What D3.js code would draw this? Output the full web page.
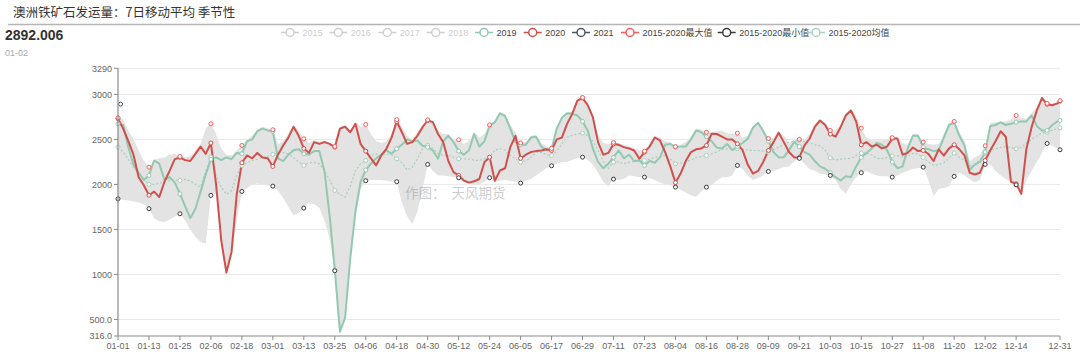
<!DOCTYPE html>
<html><head><meta charset="utf-8">
<script src="https://cdn.jsdelivr.net/npm/d3@7"></script>
<style>
body{margin:0;background:#fff;}
svg{display:block;font-family:"Liberation Sans","Noto Sans CJK SC",sans-serif;}
</style>
</head><body><svg id="c" width="1080" height="358"></svg>
<script>
// ---------------- data ----------------
const titleText = '澳洲铁矿石发运量：7日移动平均 季节性';
const latestValue = '2892.006';
const latestDate = '01-02';
const watermark = '作图：  天风期货';

const yTickValues = [316, 500, 1000, 1500, 2000, 2500, 3000, 3290];
const yTickLabels = ['316.0', '500.0', '1000', '1500', '2000', '2500', '3000', '3290'];
const xTickLabels = ['01-01','01-13','01-25','02-06','02-18','03-01','03-13','03-25','04-06','04-18','04-30','05-12','05-24','06-05','06-17','06-29','07-11','07-23','08-04','08-16','08-28','09-09','09-21','10-03','10-15','10-27','11-08','11-20','12-02','12-14','12-31'];

const legendNames = ['2015','2016','2017','2018','2019','2020','2021','2015-2020最大值','2015-2020最小值','2015-2020均值'];

// sampled days of the (leap) year: every 2nd day, plus 12-31
const sampleDays = d3.range(0, 366, 2).concat([365]);

const v2020 = [
2730,2620,2480,2330,2080,1990,1880,1920,1860,2030,
2150,2280,2300,2270,2260,2340,2420,2340,2460,2000,
1380,1020,1250,1890,2240,2322,2290,2350,2300,2290,
2200,2330,2433,2520,2640,2540,2400,2350,2470,2450,
2470,2450,2414,2620,2640,2580,2673,2450,2370,2290,
2211,2322,2396,2520,2700,2580,2450,2470,2540,2636,
2710,2692,2560,2470,2260,2137,2100,2044,2020,2035,
2060,2250,2303,2040,2155,2180,2414,2540,2290,2330,
2359,2370,2377,2390,2377,2500,2520,2673,2784,2932,
2960,2880,2747,2470,2330,2350,2450,2440,2414,2400,
2377,2285,2359,2420,2520,2488,2359,2200,2020,2120,
2260,2359,2390,2400,2433,2562,2560,2530,2500,2500,
2451,2380,2220,2120,2150,2250,2377,2470,2575,2470,
2360,2300,2300,2433,2510,2640,2710,2660,2560,2530,
2636,2766,2821,2700,2440,2470,2420,2440,2400,2420,
2510,2510,2330,2350,2410,2370,2377,2340,2260,2390,
2320,2400,2440,2390,2322,2130,2110,2130,2266,2380,
2480,2590,2530,2030,2007,1896,2400,2636,2820,2960,
2890,2880,2900,2925];

const v2019 = [
2673,2660,2414,2220,2130,2050,2100,2266,2230,2050,
2081,2020,1896,1760,1625,1730,1920,2110,2280,2300,
2270,2300,2280,2350,2340,2480,2500,2590,2620,2600,
2590,2290,2260,2330,2380,2390,2340,2330,2370,2370,
2150,1650,1050,364,520,1180,1700,2030,2160,2230,
2290,2330,2380,2340,2396,2440,2500,2475,2488,2430,
2414,2377,2285,2480,2540,2470,2370,2330,2380,2560,
2420,2480,2655,2690,2790,2760,2620,2470,2440,2440,
2520,2530,2420,2380,2396,2620,2740,2790,2784,2766,
2700,2600,2400,2250,2180,2230,2300,2377,2290,2330,
2260,2266,2211,2260,2240,2300,2440,2450,2414,2420,
2420,2500,2600,2580,2530,2480,2410,2400,2450,2380,
2420,2460,2507,2630,2685,2590,2480,2360,2300,2303,
2380,2470,2420,2359,2330,2260,2200,2174,2130,2080,
2044,2090,2081,2200,2300,2350,2396,2460,2440,2380,
2250,2180,2200,2400,2540,2540,2414,2390,2370,2380,
2520,2660,2690,2540,2433,2160,2220,2250,2359,2650,
2660,2690,2660,2673,2692,2700,2700,2766,2650,2600,
2600,2660,2700,2710];

const vMax = [
2740,2720,2600,2500,2380,2260,2192,2270,2290,2300,
2330,2340,2310,2300,2310,2380,2450,2620,2673,2560,
2400,2330,2320,2380,2433,2500,2540,2610,2640,2620,
2607,2450,2480,2560,2660,2600,2507,2460,2490,2470,
2490,2460,2422,2640,2660,2600,2690,2640,2666,2560,
2480,2460,2480,2560,2720,2640,2540,2500,2580,2660,
2718,2700,2600,2560,2560,2500,2496,2450,2480,2580,
2520,2560,2662,2700,2800,2780,2660,2580,2460,2470,
2540,2550,2460,2420,2400,2640,2760,2800,2810,2940,
2965,2890,2760,2560,2460,2450,2466,2460,2440,2420,
2400,2380,2370,2460,2540,2520,2480,2470,2420,2440,
2470,2530,2620,2610,2580,2580,2590,2600,2570,2560,
2570,2520,2540,2640,2700,2620,2510,2520,2590,2540,
2460,2500,2500,2500,2560,2670,2720,2690,2600,2600,
2660,2790,2835,2760,2625,2520,2490,2490,2490,2500,
2520,2530,2460,2440,2560,2560,2470,2450,2440,2450,
2560,2680,2700,2580,2480,2260,2300,2330,2429,2680,
2690,2700,2700,2720,2766,2740,2730,2790,2860,2970,
2900,2900,2920,2930];

const vMin = [
1840,1830,1820,1810,1800,1780,1730,1620,1590,1580,
1610,1640,1674,1600,1500,1420,1360,1340,1878,1900,
1370,1010,1240,1600,1922,1960,2000,2010,2000,1990,
1981,1930,1850,1750,1660,1680,1737,1790,1780,1740,
1600,1400,1041,355,500,1150,1650,1950,2041,2050,
2050,2050,2040,2030,2030,1800,1650,1560,1700,1950,
2222,2150,2100,2100,2090,2080,2074,2030,2010,2000,
2000,2030,2074,2030,2040,2050,2040,2030,2015,2040,
2060,2100,2140,2180,2207,2230,2250,2250,2270,2290,
2303,2270,2220,2130,2030,1980,2059,2050,2060,2100,
2090,2080,2081,2070,2050,2020,2000,1990,1970,1940,
1910,1880,1860,1920,1970,1990,2040,2080,2080,2100,
2211,2170,2100,2050,2070,2100,2144,2150,2170,2190,
2200,2260,2290,2230,2170,2150,2120,2110,2100,2050,
1950,1900,2000,2080,2130,2150,2120,2100,2090,2090,
2081,2100,2130,2150,2170,2180,2192,2050,1870,1950,
1960,1980,2089,2130,2100,2060,2020,2050,2222,2220,
2150,2100,2060,2020,1995,1880,2050,2150,2250,2350,
2455,2430,2400,2385];

const vMean = [
2414,2360,2280,2190,2120,2060,2000,2000,2010,2030,
2044,2050,2044,2055,2040,2000,1970,2150,2303,2100,
1970,1890,1930,2100,2211,2240,2266,2280,2300,2310,
2333,2350,2355,2340,2300,2250,2211,2240,2245,2229,
2150,2050,1933,1890,1860,1980,2150,2230,2266,2320,
2340,2320,2340,2330,2285,2240,2160,2190,2285,2396,
2433,2400,2340,2322,2322,2300,2285,2285,2280,2270,
2266,2285,2303,2380,2396,2380,2320,2285,2248,2260,
2300,2359,2355,2330,2322,2370,2450,2525,2545,2560,
2570,2540,2480,2380,2260,2180,2248,2250,2229,2245,
2255,2262,2266,2280,2300,2310,2322,2280,2229,2235,
2250,2270,2300,2310,2322,2340,2360,2390,2396,2396,
2396,2390,2380,2377,2377,2370,2359,2390,2414,2440,
2470,2480,2488,2475,2460,2440,2430,2380,2296,2270,
2280,2285,2290,2320,2348,2350,2330,2290,2285,2300,
2318,2320,2300,2310,2345,2340,2300,2250,2211,2220,
2240,2290,2348,2300,2270,2200,2230,2270,2348,2380,
2396,2410,2420,2410,2396,2410,2460,2500,2540,2570,
2580,2600,2620,2629];

const d2021 = ['01-02'];
const v2021 = [2892.006];

// ---------------- drawing ----------------
const colors = {
  c2019: '#93c9b0', c2020: '#d0504b', c2021: '#4b5667',
  cMax: '#ff5a5a', cMin: '#3a3a3a', cMean: '#a9cfbd', off: '#cfcfcf'
};
const svg = d3.select('#c');
const x = d3.scaleLinear().domain([0, 365]).range([118, 1060]);
const y = d3.scaleLinear().domain([316, 3290]).range([336, 68.3]);
const dayOf = s => { const [m, d] = s.split('-').map(Number); return d3.timeDay.count(new Date(2020, 0, 1), new Date(2020, m - 1, d)); };

// title
svg.append('text').attr('x', 13).attr('y', 17).attr('font-size', 12.5).attr('fill', '#333')
  .attr('font-family', '"Noto Sans CJK SC",sans-serif').text(titleText);
svg.append('line').attr('x1', 8).attr('x2', 1080).attr('y1', 24.5).attr('y2', 24.5)
  .attr('stroke', '#b5b5b5').attr('stroke-width', 1.5);
svg.append('text').attr('x', 5).attr('y', 39.5).attr('font-size', 14).attr('font-weight', 'bold')
  .attr('fill', '#333').text(latestValue);
svg.append('text').attr('x', 5).attr('y', 55.5).attr('font-size', 9).attr('fill', '#aaa').text(latestDate);

// legend
const legendColors = [colors.off, colors.off, colors.off, colors.off, colors.c2019, colors.c2020, colors.c2021, colors.cMax, colors.cMin, colors.cMean];
const legendCenters = [290, 338.3, 387.3, 435.7, 484, 532.7, 581, 630, 726.7, 816];
legendNames.forEach((n, i) => {
  const lx = legendCenters[i];
  const g = svg.append('g');
  g.append('line').attr('x1', lx - 9).attr('x2', lx + 9).attr('y1', 32.5).attr('y2', 32.5)
    .attr('stroke', legendColors[i]).attr('stroke-width', 1.5);
  g.append('circle').attr('cx', lx).attr('cy', 32.5).attr('r', 4).attr('fill', '#fff')
    .attr('stroke', legendColors[i]).attr('stroke-width', 1.5);
  g.append('text').attr('x', lx + 12.5).attr('y', 35.8).attr('font-size', 9)
    .attr('fill', i < 4 ? colors.off : '#444').text(n);
});

// grid
svg.append('g').selectAll('line').data(yTickValues.filter(v => v !== 316)).join('line')
  .attr('x1', 118).attr('x2', 1060).attr('y1', d => y(d)).attr('y2', d => y(d))
  .attr('stroke', '#e8e8e8').attr('stroke-width', 1);

// band
const pts = sampleDays.map((d, i) => ({ d, max: vMax[i], min: vMin[i], mean: vMean[i], a: v2019[i], b: v2020[i] }));
svg.append('path').datum(pts)
  .attr('d', d3.area().x(p => x(p.d)).y0(p => y(p.min)).y1(p => y(p.max)))
  .attr('fill', '#e3e3e3');

// lines
const lineOf = key => d3.line().x(p => x(p.d)).y(p => y(p[key]));
svg.append('path').datum(pts).attr('d', lineOf('mean')).attr('fill', 'none')
  .attr('stroke', colors.cMean).attr('stroke-width', 1.2).attr('stroke-dasharray', '2,2');
svg.append('path').datum(pts).attr('d', lineOf('a')).attr('fill', 'none')
  .attr('stroke', colors.c2019).attr('stroke-width', 2).attr('stroke-linejoin', 'round');
svg.append('path').datum(pts).attr('d', lineOf('b')).attr('fill', 'none')
  .attr('stroke', colors.c2020).attr('stroke-width', 2).attr('stroke-linejoin', 'round');

// markers every 12 days + last
const markPts = pts.filter(p => p.d % 12 === 0 || p.d === 365);
const markers = [['mean', colors.cMean], ['a', colors.c2019], ['b', colors.c2020], ['max', colors.cMax], ['min', colors.cMin]];
markers.forEach(([k, c]) => {
  svg.append('g').selectAll('circle').data(markPts).join('circle')
    .attr('cx', p => x(p.d)).attr('cy', p => y(p[k])).attr('r', 2)
    .attr('fill', '#fff').attr('stroke', c).attr('stroke-width', 1);
});
svg.append('g').selectAll('circle').data(d2021).join('circle')
  .attr('cx', d => x(dayOf(d))).attr('cy', (d, i) => y(v2021[i])).attr('r', 2)
  .attr('fill', '#fff').attr('stroke', colors.c2021).attr('stroke-width', 1);

// axes
const axisColor = '#8a8a8a';
svg.append('line').attr('x1', 118).attr('x2', 118).attr('y1', y(316)).attr('y2', y(3290))
  .attr('stroke', axisColor).attr('stroke-width', 1.2);
svg.append('line').attr('x1', 118).attr('x2', 1060).attr('y1', 336).attr('y2', 336)
  .attr('stroke', axisColor).attr('stroke-width', 1.2);
const yt = svg.append('g');
yTickValues.forEach((v, i) => {
  yt.append('line').attr('x1', 114).attr('x2', 118).attr('y1', y(v)).attr('y2', y(v)).attr('stroke', axisColor);
  yt.append('text').attr('x', 112).attr('y', y(v) + 3.2).attr('text-anchor', 'end')
    .attr('font-size', 9).attr('fill', '#666').text(yTickLabels[i]);
});
const xt = svg.append('g');
xTickLabels.forEach(s => {
  const px = x(dayOf(s));
  xt.append('line').attr('x1', px).attr('x2', px).attr('y1', 336).attr('y2', 340).attr('stroke', axisColor);
  xt.append('text').attr('x', px).attr('y', 349).attr('text-anchor', 'middle')
    .attr('font-size', 9).attr('fill', '#666').text(s);
});

// watermark
svg.append('text').attr('x', 405).attr('y', 198).attr('font-size', 13.5)
  .attr('font-family', '"Noto Sans CJK SC",sans-serif').attr('fill', 'rgba(140,140,140,0.45)')
  .style('white-space', 'pre').text(watermark);
</script>
</body></html>
